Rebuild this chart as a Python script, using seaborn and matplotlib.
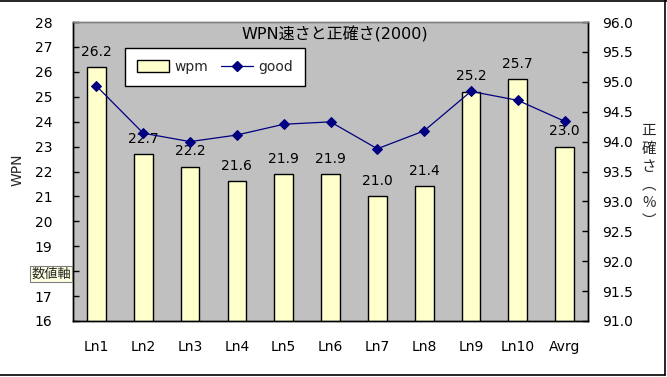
import matplotlib
matplotlib.use("Agg")
import matplotlib.pyplot as plt
import seaborn as sns
import numpy as np
from matplotlib.patches import Patch
from matplotlib.lines import Line2D

categories = ["Ln1", "Ln2", "Ln3", "Ln4", "Ln5", "Ln6", "Ln7", "Ln8", "Ln9", "Ln10", "Avrg"]
wpm = [26.2, 22.7, 22.2, 21.6, 21.9, 21.9, 21.0, 21.4, 25.2, 25.7, 23.0]
good = [94.93, 94.14, 94.00, 94.11, 94.29, 94.33, 93.88, 94.18, 94.84, 94.69, 94.34]
left_ticks = list(range(16, 29))
left_labels = ["16", "17", "", "19", "20", "21", "22", "23", "24", "25", "26", "27", "28"]
right_ticks = [91.0, 91.5, 92.0, 92.5, 93.0, 93.5, 94.0, 94.5, 95.0, 95.5, 96.0]

sns.set_theme(style="white")
plt.rcParams['font.family'] = ['DejaVu Sans', 'Noto Sans CJK JP']

fig = plt.figure(figsize=(6.67, 3.77), dpi=100)
ax = fig.add_axes([73/667, 1-321/377, (588-73)/667, (321-22)/377])
ax.set_facecolor("#C0C0C0")

sns.barplot(x=categories, y=wpm, color="#FFFFCC", saturation=1, edgecolor="black",
            linewidth=1, width=0.4, ax=ax)
ax.set_ylim(16, 28)
ax.set_yticks(left_ticks)
ax.set_yticklabels(left_labels)
ax.set_xlim(-0.5, len(categories) - 0.5)
ax.set_xticks(np.arange(len(categories)))
ax.set_xticklabels(categories)
ax.set_xticks(np.arange(len(categories)) - 0.5, minor=True)
ax.tick_params(axis='x', which='major', length=0, pad=14, labelsize=10, colors='black')
ax.tick_params(axis='x', which='minor', direction='in', length=4, width=1, color='black')
ax.tick_params(axis='y', direction='in', length=4, width=1, pad=15, labelsize=10, colors='black')
ax.set_xlabel("")
ax.set_ylabel("")

for i, v in enumerate(wpm):
    ax.annotate(f"{v:.1f}", (i, v), xytext=(0, 11), textcoords="offset points",
                ha="center", va="center", fontsize=10, color="black")

ax2 = ax.twinx()
sns.lineplot(x=np.arange(len(categories)), y=good, color="#000080", marker="D",
             markersize=5, markeredgecolor="#000080", linewidth=0.9, sort=False, ax=ax2)
ax2.set_ylim(91, 96)
ax2.set_yticks(right_ticks)
ax2.set_yticklabels([f"{t:.1f}" for t in right_ticks])
ax2.tick_params(axis='y', direction='in', length=4, width=1, pad=10, labelsize=10, colors='black')
ax2.set_ylabel("")

for a in (ax, ax2):
    for s in ["left", "bottom", "right"]:
        a.spines[s].set_color("black")
        a.spines[s].set_linewidth(1)
    a.spines["top"].set_color("#808080")
    a.spines["top"].set_linewidth(1)

ax.text(0.508, 0.958, "WPN速さと正確さ(2000)", transform=ax.transAxes, ha="center", va="center",
        fontsize=11.5, color="black")

handles = [Patch(facecolor="#FFFFCC", edgecolor="black", linewidth=1),
           Line2D([0], [0], color="#000080", marker="D", markersize=5, linewidth=0.9)]
leg = ax2.legend(handles, ["wpm", "good"], loc="upper left",
                 bbox_to_anchor=((125-73)/515, (321-48)/299), ncol=2, frameon=True,
                 fancybox=False, edgecolor="black", framealpha=1, fontsize=10,
                 handlelength=2.3, handleheight=0.9, columnspacing=0.9, borderpad=0.85,
                 handletextpad=0.4, borderaxespad=0)
leg.get_frame().set_linewidth(1)

fig.text(18/667, 1-170/377, "WPN", rotation=90, ha="center", va="center", fontsize=10)
fig.text(649/667, 1-176/377, "正\n確\nさ\n︵\n%\n︶", ha="center", va="center",
         fontsize=10.5, linespacing=1.35, family=['Noto Sans CJK JP', 'DejaVu Sans'])

# tooltip label
fig.text(51/667, 1-274/377, "数値軸", ha="center", va="center", fontsize=9.5,
         family=['Noto Sans CJK JP', 'DejaVu Sans'],
         bbox=dict(boxstyle="square,pad=0.12", facecolor="#FFFFE1", edgecolor="#808080", linewidth=0.8))

# figure border lines (top, right, bottom)
fig.add_artist(Line2D([0, 1], [1-0.5/377, 1-0.5/377], color="black", linewidth=1.2, transform=fig.transFigure))
fig.add_artist(Line2D([665/667, 665/667], [1-375/377, 1], color="black", linewidth=1.2, transform=fig.transFigure))
fig.add_artist(Line2D([0, 665/667], [1-375/377, 1-375/377], color="black", linewidth=1.2, transform=fig.transFigure))

fig.savefig("out.png", dpi=100)
